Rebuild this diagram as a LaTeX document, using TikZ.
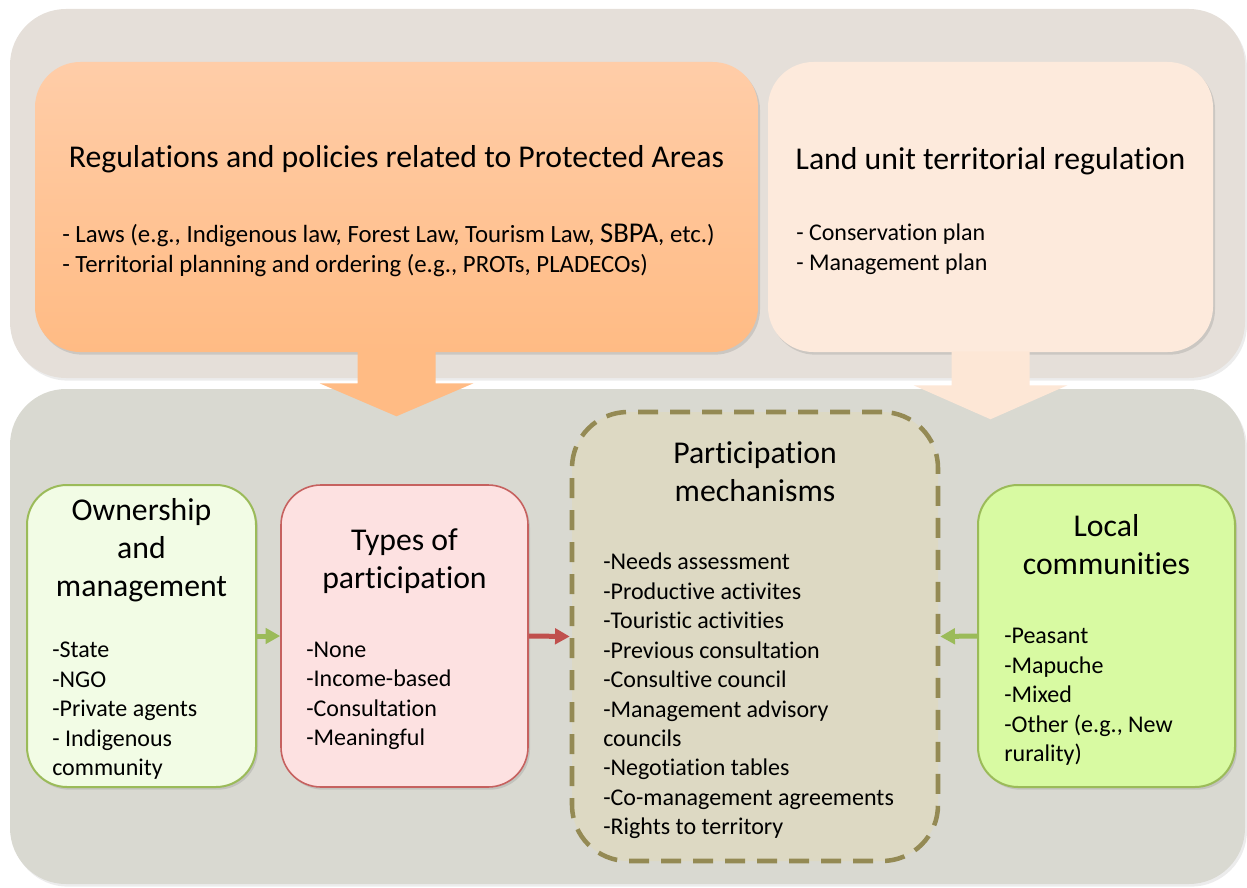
\documentclass[tikz,border=0pt]{standalone}
\usepackage{fontspec}
\setmainfont[Ligatures=CommonOff]{Carlito}
\usepackage{tikz}
\usetikzlibrary{arrows,arrows.meta}
\usetikzlibrary{fit,calc,shadows}

\definecolor{toppanel}{HTML}{E5DFD9}
\definecolor{botpanel}{HTML}{D9D9D1}
\definecolor{regtop}{HTML}{FFCDA8}
\definecolor{regbot}{HTML}{FFBB84}
\definecolor{landfill}{HTML}{FDEADC}
\definecolor{landarrow}{HTML}{FDE7D6}
\definecolor{ownfill}{HTML}{F2FCE5}
\definecolor{greenline}{HTML}{9BBB59}
\definecolor{typesfill}{HTML}{FDE1E1}
\definecolor{redline}{HTML}{C0504D}
\definecolor{mechfill}{HTML}{DDD9C3}
\definecolor{mechdraw}{HTML}{948A54}
\definecolor{localfill}{HTML}{D8FAA2}

\tikzstyle{panel} = [rounded corners=42pt, inner sep=0pt, drop shadow={opacity=0.15, shadow xshift=1.5pt, shadow yshift=-2pt}]
\tikzstyle{box} = [rounded corners=30pt, inner sep=0pt, drop shadow={opacity=0.25, shadow xshift=1.5pt, shadow yshift=-2pt}]
\tikzstyle{title} = [font=\fontsize{23.8}{28.5}\selectfont, align=center, inner sep=0pt]
\tikzstyle{items} = [font=\fontsize{18}{22.1}\selectfont, align=left, anchor=west, inner sep=0pt]
\tikzstyle{line} = [draw, -{Triangle[length=11pt, width=11.5pt]}, line width=3.75pt]

\begin{document}
\begin{tikzpicture}[x=0.75pt,y=-0.75pt]
	\tikzstyle{every node}=[font=\fontsize{18}{22.1}\selectfont]
	\useasboundingbox (0,0) rectangle (1247,888);

	% ------------------- Background panels ------------------- %
	\node[panel, fill=toppanel, fit={(10,9) (1245,378)}] (upper) {};
	\node[panel, fill=botpanel, fit={(10,389) (1245,884)}] (lower) {};

	% ------------------- Regulation boxes ------------------- %
	\node[box, rounded corners=34pt, top color=regtop, bottom color=regbot, fit={(35,62) (758,352)}] (reg) {};
	\node[box, rounded corners=34pt, fill=landfill, fit={(768,62) (1213,352)}] (land) {};

	\node[title] (regtitle) at (396.5,159) {Regulations and policies related to Protected Areas};
	\node[items, font=\fontsize{18.6}{22.5}\selectfont] (reglist) at (62,250) {- Laws (e.g., Indigenous law, Forest Law, Tourism Law, {\fontsize{21.5}{22.5}\selectfont SBPA}, etc.)\\- Territorial planning and ordering (e.g., PROTs, PLADECOs)};

	\node[title] (landtitle) at (990.5,161) {Land unit territorial regulation};
	\node[items] (landlist) at (796,249) {- Conservation plan\\- Management plan};

	% ------------------- Block arrows down ------------------- %
	\fill[regbot] ($(reg.south)+(-39,-1)$) -- ++(0,32) -- ++(-38,0) -- ($(reg.south)+(0,64)$)
		-- ($(reg.south)+(77,31)$) -- ++(-38,0) -- ($(reg.south)+(39,-1)$) -- cycle;
	\fill[landarrow] ($(land.south)+(-39,-1)$) -- ++(0,34) -- ++(-38,0) -- ($(land.south)+(0,67)$)
		-- ($(land.south)+(77,33)$) -- ++(-38,0) -- ($(land.south)+(39,-1)$) -- cycle;

	% ------------------- Lower boxes ------------------- %
	\node[box, fill=ownfill, draw=greenline, line width=1.5pt, fit={(27,485) (256,787)}] (own) {};
	\node[box, fill=typesfill, draw=redline!90, line width=1.2pt, fit={(281,485) (528,787)}] (types) {};
	\node[rounded corners=42pt, inner sep=0pt, fill=mechfill, draw=mechdraw, line width=3.4pt, dash pattern=on 15pt off 9pt, fit={(572,412) (938,861)}] (mech) {};
	\node[box, fill=localfill, draw=greenline, line width=1.5pt, fit={(978,485) (1235,787)}] (local) {};

	\node[title] (owntitle) at (141.5,550) {Ownership\\and\\management};
	\node[items] (ownlist) at (52,711) {-State\\-NGO\\-Private agents\\- Indigenous\\community};

	\node[title] (typestitle) at (404.5,561) {Types of\\participation};
	\node[items] (typeslist) at (306,696) {-None\\-Income-based\\-Consultation\\-Meaningful};

	\node[title] (mechtitle) at (755,472) {Participation\\mechanisms};
	\node[items] (mechlist) at (603,696) {-Needs assessment\\-Productive activites\\-Touristic activities\\-Previous consultation\\-Consultive council\\-Management advisory\\councils\\-Negotiation tables\\-Co-management agreements\\-Rights to territory};

	\node[title] (localtitle) at (1106.5,545) {Local\\communities};
	\node[items] (locallist) at (1004,697) {-Peasant\\-Mapuche\\-Mixed\\-Other (e.g., New\\rurality)};

	% ------------------- Connectors ------------------- %
	\draw[line, greenline] (own.east) -- (types.west);
	\draw[line, redline] (types.east) -- (mech.west);
	\draw[line, greenline] (local.west) -- (mech.east);

\end{tikzpicture}
\end{document}
